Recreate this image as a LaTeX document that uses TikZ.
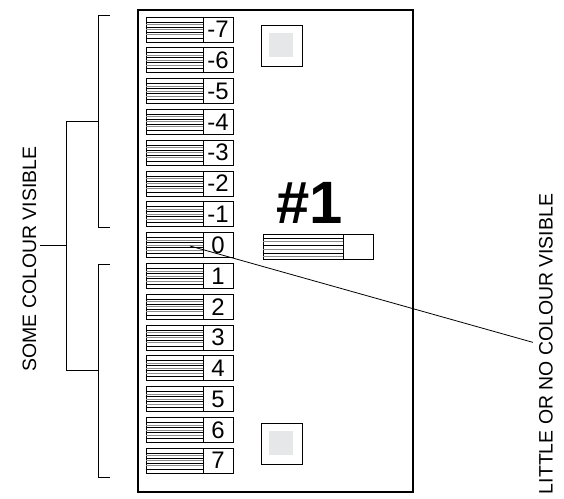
\documentclass[tikz,border=0pt]{standalone}
\usepackage{fontspec}
\setmainfont{Liberation Sans}
\definecolor{swatch}{HTML}{E6E7E8}
\definecolor{midgray}{gray}{0.55}

\begin{document}
\begin{tikzpicture}[x=1bp,y=-1bp,line width=0.8bp,
  numbox/.style={draw,inner sep=0pt,minimum width=30bp,minimum height=25bp,font=\fontsize{24}{24}\selectfont},
  sidetext/.style={rotate=90,inner sep=0pt,font=\fontsize{19.5}{19.5}\selectfont}]
  \useasboundingbox (0,0) rectangle (564,499);
  % sheet
  \draw[line width=1.1bp] (138,10) rectangle (413,492);
  % scale of strips, -7 to 7
  \foreach \k [count=\i from 0] in {-7,...,7} {
    \pgfmathsetmacro\t{17+30.8*\i}
    \draw (146,\t) rectangle (203,\t+25);
    \foreach \d in {5,10,15,21} \draw (146,\t+\d) -- (203,\t+\d);
    \foreach \d in {7.5,12.5,17.5} \draw[midgray] (146,\t+\d) -- (203,\t+\d);
    \node[numbox] (n\i) at (218,\t+12.5) {\k};}
  % grey swatches
  \foreach \y in {25,423} {\draw (261,\y) rectangle ++(41,41); \fill[swatch] (269,\y+8) rectangle ++(24,24);}
  % sample strip
  \node[font=\bfseries\fontsize{60}{60}\selectfont] (num) at (310,203) {\#1};
  \draw (263,234) rectangle (343,259);
  \foreach \d in {238,245,253} \draw (263,\d) -- (343,\d);
  \foreach \d in {241.5,249,256} \draw[midgray] (263,\d) -- (343,\d);
  \node[numbox] (ref) at (358,246.5) {};
  % brackets
  \draw (110,15) -- (98,15) -- (98,227) -- (110,227);
  \draw (110,264) -- (98,264) -- (98,477) -- (110,477);
  \draw (98,121) -- (66,121) -- (66,370) -- (98,370);
  \draw (66,245.5) -- (40,245.5);
  \node[sidetext] (some) at (29.5,259) {SOME COLOUR VISIBLE};
  \node[sidetext] (little) at (546,344) {LITTLE OR NO COLOUR VISIBLE};
  % leader
  \coordinate (lead) at (190,246);
  \draw[shorten >=6bp] (lead) -- (little.north);
\end{tikzpicture}
\end{document}
